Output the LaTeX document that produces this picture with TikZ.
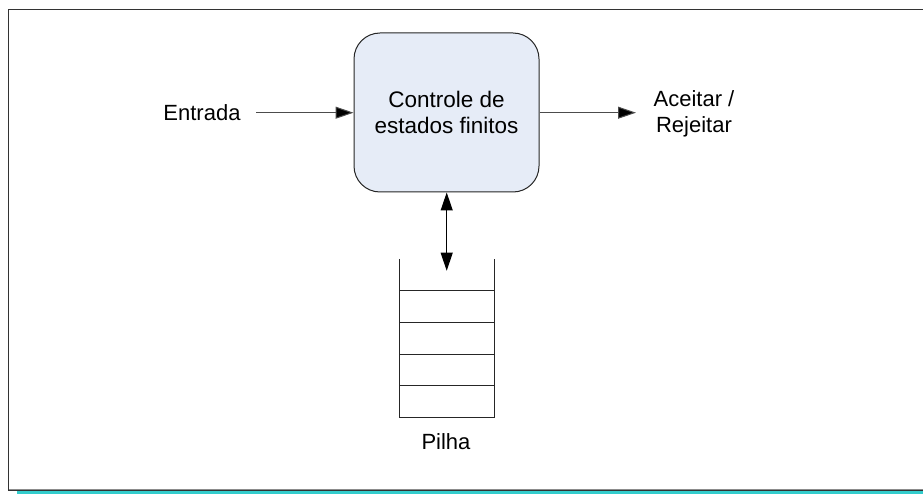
\documentclass[tikz,border=0pt]{standalone}
\usepackage{fontspec}
\setmainfont{Liberation Sans}
\usetikzlibrary{arrows.meta}
\definecolor{boxfill}{HTML}{E6ECF7}
\definecolor{stripe}{HTML}{33CCCC}
\tikzset{
  lbl/.style={font=\fontsize{22}{26}\selectfont, inner sep=0pt, align=center},
  ctrlbox/.style={draw=black!85, line width=1pt, fill=boxfill, rounded corners=26pt,
    minimum width=185pt, minimum height=159pt, inner sep=0pt, align=center,
    font=\fontsize{22.5}{26.5}\selectfont},
  flow/.style={draw=black!70, line width=1pt, -{Triangle[length=18pt,width=12pt,fill=black]}},
  bothway/.style={draw=black, line width=1pt,
    {Triangle[length=18pt,width=12pt]}-{Triangle[length=18pt,width=12pt]}},
  stackline/.style={draw=black!85, line width=1pt}
}
\begin{document}
\begin{tikzpicture}[x=1pt,y=-1pt]
  \useasboundingbox (0,0) rectangle (923,494);
  % page frame and bottom stripe
  \fill[stripe] (17,490.8) rectangle (923,494);
  \draw[black!80, line width=1pt] (930,9.5) -- (8,9.5) -- (8,490.5) -- (930,490.5);
  \draw[black!45, line width=1pt] (9,489.5) -- (930,489.5);

  % finite state control
  \node[ctrlbox] (ctrl) at (446.5,112.5) {Controle de\\estados finitos};

  % input and output
  \node[lbl] (in) at (202,113) {Entrada};
  \node[lbl] (out) at (694,113.5) {Aceitar /\\Rejeitar};
  \coordinate (instart) at (256,112.7);
  \coordinate (outend) at (636,112.7);
  \draw[flow] (instart) -- (ctrl.west |- instart);
  \draw[flow] (ctrl.east |- outend) -- (outend);

  % stack
  \coordinate (stl) at (399,259);
  \coordinate (str) at (494.3,259);
  \coordinate (sbl) at (399,417.7);
  \coordinate (sbr) at (494.3,417.7);
  \draw[stackline] (stl) -- (sbl) -- (sbr) -- (str);
  \foreach \yy in {290.7,322.3,354,385.7}
    \draw[stackline] (399,\yy) -- (494.3,\yy);
  \coordinate (stacktop) at (446.7,270.7);
  \draw[bothway] (ctrl.south -| stacktop) -- (stacktop);
  \node[lbl] (pilha) at (446,442) {Pilha};
\end{tikzpicture}
\end{document}
